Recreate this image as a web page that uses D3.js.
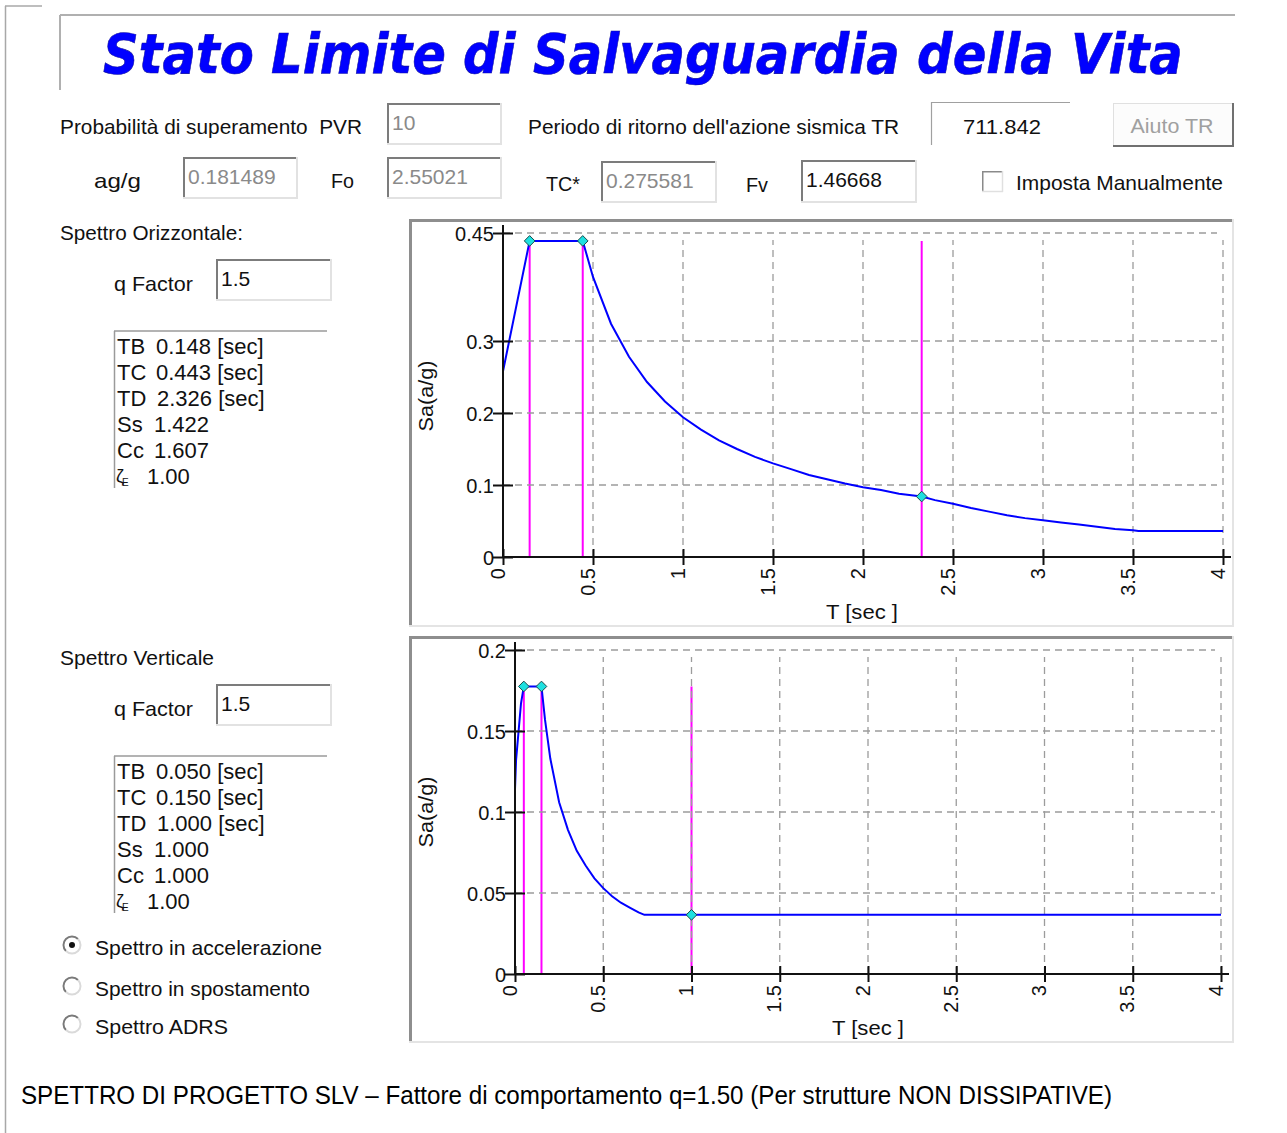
<!DOCTYPE html>
<html>
<head>
<meta charset="utf-8">
<script src="https://cdn.jsdelivr.net/npm/d3@7"></script>
<style>
  html, body { margin: 0; padding: 0; background: #fff; }
  svg { display: block; font-family: "Liberation Sans", Arial, sans-serif; }
  text { white-space: pre; }
</style>
</head>
<body>
<svg id="c" width="1287" height="1133"></svg>
<script>
// ---------- data ----------
const tickT        = [0, 0.5, 1, 1.5, 2, 2.5, 3, 3.5, 4];
const tickLabelT   = ["0", "0.5", "1", "1.5", "2", "2.5", "3", "3.5", "4"];
const tickSaH      = [0, 0.1, 0.2, 0.3, 0.45];
const tickLabelSaH = ["0", "0.1", "0.2", "0.3", "0.45"];
const tickSaV      = [0, 0.05, 0.1, 0.15, 0.2];
const tickLabelSaV = ["0", "0.05", "0.1", "0.15", "0.2"];

// horizontal design spectrum Sa(T)
const periodH = [0, 0.148, 0.443, 0.5, 0.6, 0.7, 0.8, 0.9, 1.0, 1.1, 1.2, 1.3, 1.4, 1.5, 1.6, 1.7, 1.8, 1.9,
                 2.0, 2.1, 2.2, 2.326, 2.4, 2.5, 2.6, 2.7, 2.8, 2.9, 3.0, 3.1, 3.2, 3.3, 3.4, 3.5, 3.53, 4.0];
const saH     = [0.258, 0.439, 0.439, 0.389, 0.324, 0.278, 0.243, 0.216, 0.194, 0.177, 0.162, 0.150, 0.139,
                 0.130, 0.122, 0.114, 0.108, 0.102, 0.097, 0.093, 0.088, 0.084, 0.079, 0.074, 0.068, 0.063,
                 0.058, 0.054, 0.051, 0.048, 0.045, 0.042, 0.039, 0.037, 0.036, 0.036];
const cornerTH  = [0.148, 0.443, 2.326];   // TB, TC, TD
const cornerSaH = [0.439, 0.439, 0.084];

// vertical design spectrum Sa(T)
const periodV = [0, 0.006, 0.034, 0.05, 0.15, 0.17, 0.2, 0.25, 0.3, 0.35, 0.4, 0.45, 0.5, 0.55, 0.6, 0.65,
                 0.7, 0.733, 1.0, 4.0];
const saV     = [0.114, 0.132, 0.167, 0.1775, 0.1775, 0.157, 0.133, 0.106, 0.089, 0.076, 0.067, 0.059, 0.053,
                 0.048, 0.044, 0.041, 0.038, 0.0365, 0.0365, 0.0365];
const cornerTV  = [0.05, 0.15, 1.0];
const cornerSaV = [0.1775, 0.1775, 0.0365];

// parameter lists
const paramNamesH  = ["TB", "TC", "TD", "Ss", "Cc"];
const paramValuesH = ["0.148 [sec]", "0.443 [sec]", "2.326 [sec]", "1.422", "1.607"];
const paramNamesV  = ["TB", "TC", "TD", "Ss", "Cc"];
const paramValuesV = ["0.050 [sec]", "0.150 [sec]", "1.000 [sec]", "1.000", "1.000"];
const zetaValue = "1.00";

// input fields
const fieldLabels = ["Probabilità di superamento  PVR", "Periodo di ritorno dell'azione sismica TR",
                     "ag/g", "Fo", "TC*", "Fv"];
const fieldValues = ["10", "711.842", "0.181489", "2.55021", "0.275581", "1.46668"];
const qFactor = "1.5";
const radioLabels = ["Spettro in accelerazione", "Spettro in spostamento", "Spettro ADRS"];

// ---------- drawing ----------
const svg = d3.select("#c");
const FS = 21;
const DARK = "#7c7c7c", LIGHT = "#e2e2e2", GREYTXT = "#8a8a8a";

function label(x, cy, txt, width, opts = {}) {
  const fs = opts.fs || FS;
  const t = svg.append("text")
    .attr("x", x).attr("y", cy + fs * 0.36)
    .attr("font-size", fs)
    .attr("fill", opts.fill || "#111")
    .attr("text-anchor", opts.anchor || "start")
    .text(txt);
  if (width) t.attr("textLength", width).attr("lengthAdjust", "spacingAndGlyphs");
  return t;
}
function line(x1, y1, x2, y2, color, w) {
  svg.append("line").attr("x1", x1).attr("y1", y1).attr("x2", x2).attr("y2", y2)
    .attr("stroke", color).attr("stroke-width", w);
}
function sunkenBox(x, y, w, h, dw = 2) {
  svg.append("rect").attr("x", x).attr("y", y).attr("width", w).attr("height", h).attr("fill", "#fff");
  line(x, y + dw / 2, x + w, y + dw / 2, DARK, dw);
  line(x + dw / 2, y, x + dw / 2, y + h, DARK, dw);
  line(x, y + h - 1, x + w, y + h - 1, LIGHT, 2);
  line(x + w - 1, y, x + w - 1, y + h, LIGHT, 2);
}
function textBox(x, y, w, h, txt, color) {
  sunkenBox(x, y, w, h);
  label(x + 5, y + 19, txt, null, { fill: color });
}

// outer frame and title box
line(5.5, 6, 5.5, 1133, "#a8a8a8", 1.5);
line(5, 6, 42, 6, "#a8a8a8", 1.5);
line(60, 15, 1235, 15, "#b0b0b0", 2);
line(60, 15, 60, 90, "#b0b0b0", 2);

// title: drawn at natural width, then scaled horizontally to its box
const title = svg.append("text")
  .attr("x", 0).attr("y", 0)
  .attr("font-family", "'DejaVu Sans', Verdana, sans-serif")
  .attr("font-weight", "bold").attr("font-style", "italic")
  .attr("font-size", 56)
  .attr("fill", "#0000ff").attr("stroke", "#10109a").attr("stroke-width", 0.6)
  .text("Stato Limite di Salvaguardia della Vita");
const titleW = title.node().getComputedTextLength();
title.attr("transform", `translate(103,73) scale(${1080 / titleW},1)`);

// top rows
label(60, 126, fieldLabels[0], 302);
textBox(387, 103, 115, 42, fieldValues[0], GREYTXT);
label(528, 126, fieldLabels[1], 371);
line(931, 102.5, 1070, 102.5, "#a0a0a0", 1.2);
line(931.5, 102, 931.5, 145, "#a0a0a0", 1.2);
label(1002, 126, fieldValues[1], 78, { anchor: "middle" });

// "Aiuto TR" button
svg.append("rect").attr("x", 1113).attr("y", 103).attr("width", 121).attr("height", 44).attr("fill", "#fcfcfc");
line(1113, 103.5, 1234, 103.5, "#e0e0e0", 1);
line(1113.5, 103, 1113.5, 147, "#e0e0e0", 1);
line(1113, 146, 1234, 146, "#707070", 2);
line(1233, 103, 1233, 147, "#707070", 2);
label(1172, 125, "Aiuto TR", 83, { anchor: "middle", fill: "#a0a0a0" });

label(94, 180, fieldLabels[2], 47);
textBox(183, 157, 115, 42, fieldValues[2], GREYTXT);
label(331, 180, fieldLabels[3], 23);
textBox(387, 157, 115, 42, fieldValues[3], GREYTXT);
label(546, 183, fieldLabels[4], 34);
textBox(601, 161, 116, 42, fieldValues[4], GREYTXT);
label(746, 184, fieldLabels[5], 22);
textBox(801, 160, 116, 43, fieldValues[5], "#111");

// checkbox
svg.append("rect").attr("x", 982).attr("y", 171).attr("width", 21).attr("height", 21).attr("fill", "#fff");
line(982, 171.75, 1003, 171.75, "#8a8a8a", 1.5);
line(982.75, 171, 982.75, 192, "#8a8a8a", 1.5);
line(982, 191.5, 1003, 191.5, "#e0e0e0", 1.5);
line(1002.5, 171, 1002.5, 192, "#e0e0e0", 1.5);
label(1016, 182, "Imposta Manualmente", 207);

// left parameter panels
function paramPanel(top, title, titleW, names, values) {
  label(60, top, title, titleW);
  label(114, top + 51, "q Factor", 79);
  textBox(216, top + 27, 116, 42, qFactor, "#111");
  const lt = top + 99;
  line(114, lt, 327, lt, "#9a9a9a", 1.5);
  line(114.5, lt, 114.5, lt + 157, "#9a9a9a", 1.5);
  names.forEach((n, i) => {
    const cy = lt + 15 + 26 * i;
    label(117, cy, n, null, { fs: 22 });
    label(n === "TD" ? 157 : (n === "TB" || n === "TC" ? 156 : 154), cy, values[i], null, { fs: 22 });
  });
  const zy = lt + 15 + 26 * 5;
  svg.append("text").attr("x", 116).attr("y", zy + 6).attr("font-size", 18).attr("fill", "#111").text("ζ");
  svg.append("text").attr("x", 122).attr("y", zy + 10).attr("font-size", 10).attr("fill", "#111").text("E");
  label(147, zy, zetaValue, null, { fs: 22 });
}
paramPanel(232, "Spettro Orizzontale:", 183, paramNamesH, paramValuesH);
paramPanel(657, "Spettro Verticale", 154, paramNamesV, paramValuesV);

// radio buttons
const radioY = [945, 986, 1024];
const radioW = [227, 215, 133];
radioLabels.forEach((txt, i) => {
  const cx = 72, cy = radioY[i], r = 8.5;
  svg.append("circle").attr("cx", cx).attr("cy", cy).attr("r", r).attr("fill", "#fff");
  const arc = d3.arc().innerRadius(r - 1).outerRadius(r + 1);
  svg.append("path").attr("transform", `translate(${cx},${cy})`)
    .attr("d", arc({ startAngle: -Math.PI * 3 / 4, endAngle: Math.PI / 4 })).attr("fill", "#7a7a7a");
  svg.append("path").attr("transform", `translate(${cx},${cy})`)
    .attr("d", arc({ startAngle: Math.PI / 4, endAngle: Math.PI * 5 / 4 })).attr("fill", "#dadada");
  if (i === 0) svg.append("circle").attr("cx", cx).attr("cy", cy).attr("r", 3).attr("fill", "#111");
  label(95, cy + 2, txt, radioW[i]);
});

// caption
svg.append("text").attr("x", 21).attr("y", 1104).attr("font-size", 25).attr("fill", "#000")
  .attr("textLength", 1091).attr("lengthAdjust", "spacingAndGlyphs")
  .text("SPETTRO DI PROGETTO SLV – Fattore di comportamento q=1.50 (Per strutture NON DISSIPATIVE)");

// ---------- spectrum charts ----------
function spectrum(cfg) {
  const { frame, xr, yr, ymax, ticksY, labelsY, T, Sa, cT, cSa, yTitleX, yTitleY, xTitleX, xTitleY } = cfg;
  // sunken panel
  svg.append("rect").attr("x", frame[0]).attr("y", frame[1])
    .attr("width", frame[2] - frame[0]).attr("height", frame[3] - frame[1]).attr("fill", "#fff");
  line(frame[0], frame[1] + 1.5, frame[2], frame[1] + 1.5, "#8e8e8e", 3);
  line(frame[0] + 1.5, frame[1], frame[0] + 1.5, frame[3], "#8e8e8e", 3);
  line(frame[0], frame[3] - 1, frame[2], frame[3] - 1, "#e4e4e4", 2);
  line(frame[2] - 1, frame[1], frame[2] - 1, frame[3], "#e4e4e4", 2);

  const x = d3.scaleLinear().domain([0, 4]).range(xr);
  const y = d3.scaleLinear().domain([0, ymax]).range(yr);
  const g = svg.append("g");
  const plateau = d3.max(Sa);

  // corner period markers
  g.selectAll("line.mk").data(cT).join("line")
    .attr("x1", d => x(d)).attr("x2", d => x(d))
    .attr("y1", y(0)).attr("y2", y(plateau))
    .attr("stroke", "#ff00ff").attr("stroke-width", 2);

  // dashed grid
  g.selectAll("line.gx").data(tickT.slice(1)).join("line")
    .attr("x1", d => x(d)).attr("x2", d => x(d))
    .attr("y1", y(0)).attr("y2", y(ymax) + 7)
    .attr("stroke", "#9c9c9c").attr("stroke-width", 1.3).attr("stroke-dasharray", "7,5");
  g.selectAll("line.gy").data(ticksY.slice(1)).join("line")
    .attr("x1", x(0)).attr("x2", x(4) - 6)
    .attr("y1", d => y(d)).attr("y2", d => y(d))
    .attr("stroke", "#9c9c9c").attr("stroke-width", 1.3).attr("stroke-dasharray", "7,5");

  // spectrum curve
  const pts = T.map((t, i) => [t, Sa[i]]);
  g.append("path").datum(pts)
    .attr("d", d3.line().x(d => x(d[0])).y(d => y(d[1])))
    .attr("fill", "none").attr("stroke", "#0000ff").attr("stroke-width", 2);

  // axes
  line(x(0), y(0), x(4) + 8, y(0), "#111", 2);
  line(x(0), y(0), x(0), y(ymax) - 8, "#111", 2);
  const ay = d3.axisLeft(y).tickValues(ticksY).tickFormat((d, i) => labelsY[i])
    .tickSize(10).tickPadding(0);
  const gy = g.append("g").attr("transform", `translate(${x(0)},0)`).call(ay);
  gy.select(".domain").remove();
  gy.selectAll(".tick line").attr("x1", -10).attr("x2", 10).attr("stroke", "#111").attr("stroke-width", 2);
  gy.selectAll(".tick text").attr("font-size", 20).attr("font-family", "'Liberation Sans', Arial, sans-serif")
    .attr("fill", "#111").attr("x", -9).attr("dy", "0.36em");

  const ax = d3.axisBottom(x).tickValues(tickT).tickFormat((d, i) => tickLabelT[i]).tickSize(8);
  const gx = g.append("g").attr("transform", `translate(0,${y(0)})`).call(ax);
  gx.select(".domain").remove();
  gx.selectAll(".tick line").attr("y1", -8).attr("y2", 8).attr("stroke", "#111").attr("stroke-width", 2);
  gx.selectAll(".tick text").attr("font-size", 20).attr("font-family", "'Liberation Sans', Arial, sans-serif")
    .attr("fill", "#111").attr("transform", "rotate(-90)")
    .attr("x", -11).attr("y", 1).attr("dy", 0).attr("text-anchor", "end");

  // corner markers
  const sym = d3.symbol().type(d3.symbolDiamond2).size(72);
  g.selectAll("path.dm").data(cT).join("path")
    .attr("transform", (d, i) => `translate(${x(d)},${y(cSa[i])})`)
    .attr("d", sym)
    .attr("fill", "#1ee0e0").attr("stroke", "#1a4a4a").attr("stroke-width", 1);

  // axis titles
  svg.append("text").attr("transform", `translate(${yTitleX},${yTitleY}) rotate(-90)`)
    .attr("text-anchor", "middle").attr("font-size", 20).attr("fill", "#111")
    .attr("textLength", 71).attr("lengthAdjust", "spacingAndGlyphs").text("Sa(a/g)");
  svg.append("text").attr("x", xTitleX).attr("y", xTitleY)
    .attr("text-anchor", "middle").attr("font-size", 20).attr("fill", "#111")
    .attr("textLength", 72).attr("lengthAdjust", "spacingAndGlyphs").text("T [sec ]");
}

spectrum({
  frame: [409, 219, 1234, 627], xr: [503, 1223], yr: [557, 233], ymax: 0.45,
  ticksY: tickSaH, labelsY: tickLabelSaH, T: periodH, Sa: saH, cT: cornerTH, cSa: cornerSaH,
  yTitleX: 433, yTitleY: 396, xTitleX: 862, xTitleY: 619
});
spectrum({
  frame: [409, 636, 1234, 1043], xr: [515, 1221], yr: [974, 650], ymax: 0.2,
  ticksY: tickSaV, labelsY: tickLabelSaV, T: periodV, Sa: saV, cT: cornerTV, cSa: cornerSaV,
  yTitleX: 433, yTitleY: 812, xTitleX: 868, xTitleY: 1035
});
</script>
</body>
</html>
